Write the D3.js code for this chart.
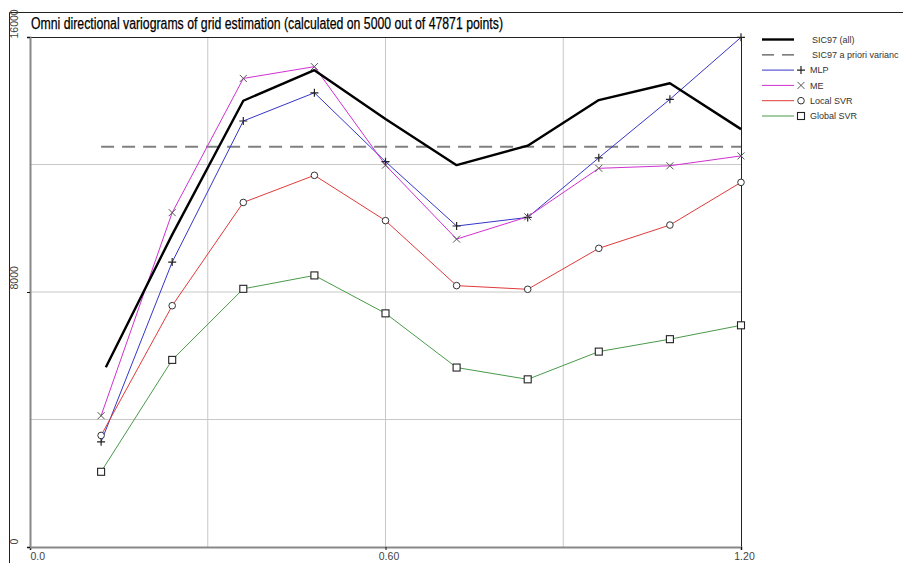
<!DOCTYPE html>
<html><head><meta charset="utf-8">
<script src="https://cdn.jsdelivr.net/npm/d3@7"></script>
<style>
body{margin:0;background:#fff;}
svg{display:block;font-family:Arial,"Liberation Sans",sans-serif;}
</style></head>
<body><svg id="c" width="903" height="563"></svg>
<script>
const lags = [0.12,0.24,0.36,0.48,0.60,0.72,0.84,0.96,1.08,1.20];
const sicLags = [0.128,0.24,0.36,0.48,0.60,0.72,0.84,0.96,1.08,1.20];
const sicAll = [5640,9800,14000,14960,13430,11980,12590,14020,14550,13110];
const sicVariance = 12560;
const mlp = [3300,8940,13365,14250,12090,10070,10340,12210,14045,15990];
const me = [4120,10490,14700,15070,11980,9660,10360,11880,11960,12270];
const localSVR = [3500,7570,10810,11660,10240,8200,8085,9370,10100,11440];
const globalSVR = [2360,5870,8100,8520,7330,5630,5260,6130,6520,6955];
const xTicks = [0,0.6,1.2];
const xTickLabels = ["0.0","0.60","1.20"];
const yTicks = [0,8000,16000];
const xGrid = [0.3,0.6,0.9];
const yGrid = [4000,8000,12000];
const legendLabels = ["SIC97 (all)","SIC97 a priori varianc","MLP","ME","Local SVR","Global SVR"];
const title = "Omni directional variograms of grid estimation (calculated on 5000 out of 47871 points)";

const svg = d3.select("#c");
const L=30,R=741,T=37,B=547;
const x = d3.scaleLinear().domain([0,1.2]).range([L,R]);
const y = d3.scaleLinear().domain([0,16000]).range([B,T]);

// outer frame
svg.append("line").attr("x1",9.5).attr("x2",903).attr("y1",12.5).attr("y2",12.5).attr("stroke","#222");
svg.append("line").attr("x1",9.5).attr("x2",9.5).attr("y1",12.5).attr("y2",563).attr("stroke","#222");

// grid
svg.append("g").selectAll("line").data(xGrid).join("line")
  .attr("x1",d=>x(d)).attr("x2",d=>x(d)).attr("y1",T).attr("y2",B)
  .attr("stroke","#c8c8c8").attr("stroke-width",1);
svg.append("g").selectAll("line").data(yGrid).join("line")
  .attr("x1",L).attr("x2",R).attr("y1",d=>y(d)).attr("y2",d=>y(d))
  .attr("stroke","#c8c8c8").attr("stroke-width",1);

// top/right frame
svg.append("line").attr("x1",L).attr("x2",R).attr("y1",T+0.5).attr("y2",T+0.5).attr("stroke","#222");
svg.append("line").attr("x1",R+0.5).attr("x2",R+0.5).attr("y1",T).attr("y2",B).attr("stroke","#222");

// axes
const ax = svg.append("g").attr("transform",`translate(0,${B})`)
  .call(d3.axisBottom(x).tickValues(xTicks).tickSize(3).tickFormat((d,i)=>xTickLabels[i]));
ax.select(".domain").attr("stroke","#888").attr("stroke-width",2);
ax.selectAll(".tick line").attr("stroke","#111");
ax.selectAll("text").attr("font-size",10.5).attr("fill","#444").attr("font-family","Arial,'Liberation Sans',sans-serif")
  .attr("y",6).attr("dy","0.71em").attr("dx",3);
ax.selectAll(".tick text").filter((d,i)=>i===0).attr("text-anchor","start").attr("dx",0);

const ay = svg.append("g").attr("transform",`translate(${L},0)`)
  .call(d3.axisLeft(y).tickValues(yTicks).tickSize(3).tickFormat(d3.format("d")));
ay.select(".domain").attr("stroke","#888").attr("stroke-width",2);
ay.selectAll(".tick line").attr("stroke","#111");
ay.selectAll(".tick text").attr("font-size",10.5).attr("fill","#444").attr("font-family","Arial,'Liberation Sans',sans-serif")
  .attr("x",null).attr("dy",null).attr("text-anchor","start")
  .attr("transform",d=>`translate(-12,${d===16000?1:-3}) rotate(-90)`);

// lines
const line = (xs)=>d3.line().x((d,i)=>x(xs[i])).y(d=>y(d));
const series = [
  {v:mlp,c:"#3535c8",m:"plus"},
  {v:me,c:"#d030d0",m:"cross"},
  {v:localSVR,c:"#e03a3a",m:"circle"},
  {v:globalSVR,c:"#4a9a4a",m:"square"}
];
// dashed variance
svg.append("line").attr("x1",x(lags[0])).attr("x2",x(lags[lags.length-1]))
  .attr("y1",y(sicVariance)).attr("y2",y(sicVariance))
  .attr("stroke","#808080").attr("stroke-width",2).attr("stroke-dasharray","13,8");

function marker(g,type,cx,cy){
  const s="#333";
  if(type==="plus"){
    g.append("path").attr("d",`M${cx-4},${cy}H${cx+4}M${cx},${cy-4}V${cy+4}`).attr("stroke","#222").attr("stroke-width",1.2).attr("fill","none");
  } else if(type==="cross"){
    g.append("path").attr("d",`M${cx-3.5},${cy-3.5}L${cx+3.5},${cy+3.5}M${cx-3.5},${cy+3.5}L${cx+3.5},${cy-3.5}`).attr("stroke","#555").attr("stroke-width",1).attr("fill","none");
  } else if(type==="circle"){
    g.append("circle").attr("cx",cx).attr("cy",cy).attr("r",3.3).attr("fill","#fff").attr("stroke",s).attr("stroke-width",1);
  } else {
    g.append("rect").attr("x",cx-3.5).attr("y",cy-3.5).attr("width",7).attr("height",7).attr("fill","#fff").attr("stroke","#222").attr("stroke-width",1.1);
  }
}

series.forEach(s=>{
  svg.append("path").datum(s.v).attr("d",line(lags)).attr("fill","none").attr("stroke",s.c).attr("stroke-width",1);
});
svg.append("path").datum(sicAll).attr("d",line(sicLags)).attr("fill","none").attr("stroke","#000").attr("stroke-width",2.4).attr("stroke-linejoin","round");
series.forEach(s=>{
  const g=svg.append("g");
  s.v.forEach((v,i)=>marker(g,s.m,x(lags[i]),y(v)));
});

// title
svg.append("text").attr("x",31).attr("y",28.5).attr("font-size",16).attr("fill","#000")
  .attr("stroke","#000").attr("stroke-width",0.25)
  .attr("textLength",472).attr("lengthAdjust","spacingAndGlyphs").text(title);

// legend
const lg = svg.append("g");
const ly = i=>39.5+i*15.3;
const legendStyles = [
  {c:"#000",w:2.4,dash:null,m:null},
  {c:"#555",w:1.2,dash:"12,8",m:null},
  {c:"#3535c8",w:1,dash:null,m:"plus"},
  {c:"#d030d0",w:1,dash:null,m:"cross"},
  {c:"#e03a3a",w:1,dash:null,m:"circle"},
  {c:"#4a9a4a",w:1,dash:null,m:"square"}
];
legendLabels.forEach((t,i)=>{
  const st=legendStyles[i];
  const l=lg.append("line").attr("x1",762).attr("x2",794).attr("y1",ly(i)).attr("y2",ly(i))
    .attr("stroke",st.c).attr("stroke-width",st.w);
  if(st.dash) l.attr("stroke-dasharray",st.dash);
  if(st.m) marker(lg,st.m,801,ly(i));
  lg.append("text").attr("x",st.m?810:812).attr("y",ly(i)).attr("dy","0.35em").attr("font-size",9)
    .attr("fill","#333").text(t);
});
</script></body></html>
